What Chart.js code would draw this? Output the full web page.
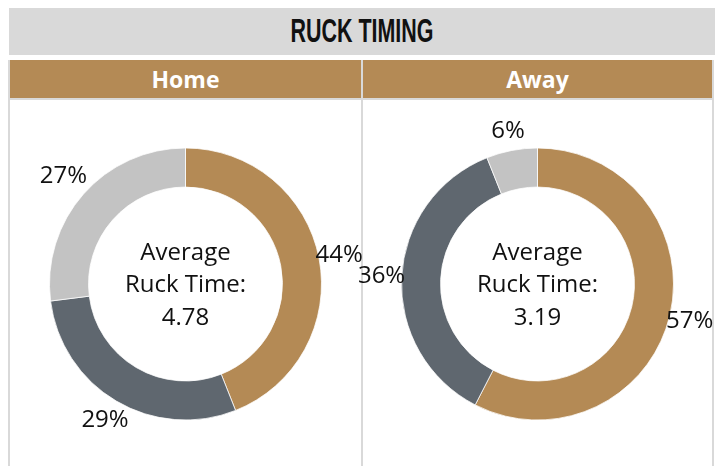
<!DOCTYPE html>
<html>
<head>
<meta charset="utf-8">
<script src="https://cdn.jsdelivr.net/npm/chart.js@4.4.1/dist/chart.umd.min.js"></script>
<style>
  body { margin: 0; background: #fff; width: 726px; height: 466px; overflow: hidden; position: relative; font-family: "Open Sans", sans-serif; }
  .title { position: absolute; left: 9px; top: 8px; width: 706px; height: 47px; background: #d9d9d9; text-align: center; }
  .title span { display: inline-block; font-family: "Liberation Sans", sans-serif; font-weight: bold; font-size: 33px; line-height: 46px; color: #111; transform: scaleX(0.65); }
  .line { position: absolute; background: #d9d9d9; }
  .head { position: absolute; top: 60px; height: 38px; background: #b48a55; color: #fff; font-weight: bold; font-size: 23px; line-height: 38px; text-align: center; }
  canvas { position: absolute; top: 101px; }
</style>
</head>
<body>
<div class="title"><span>RUCK TIMING</span></div>
<div class="line" style="left:8px;top:60px;width:2px;height:406px"></div>
<div class="line" style="left:361px;top:60px;width:2px;height:406px"></div>
<div class="line" style="left:712px;top:60px;width:2px;height:406px"></div>
<div class="line" style="left:8px;top:98px;width:706px;height:2px"></div>
<div class="head" id="homeHead" style="left:10px;width:351px"></div>
<div class="head" id="awayHead" style="left:363px;width:349px"></div>
<canvas id="homeChart" width="371" height="366" style="left:0px"></canvas>
<canvas id="awayChart" width="365" height="366" style="left:355px"></canvas>
<script>
// ruck speed bands, clockwise from 12 o'clock
const bands = ['Band 1', 'Band 2', 'Band 3'];
const bandColours = ['#b48a55', '#5f676f', '#c3c3c3'];
const teams = ['Home', 'Away'];
const homeShare = [44, 29, 27];
const awayShare = [57, 36, 6];
const avgRuckTime = [4.78, 3.19];

// percent labels just outside the ring + the average in the hole
const ruckLabels = {
  id: 'ruckLabels',
  afterDatasetsDraw (chart, args, opts) {
    const ctx = chart.ctx;
    const meta = chart.getDatasetMeta(0);
    const values = chart.data.datasets[0].data;
    ctx.save();
    ctx.font = '24px "Open Sans"';
    ctx.fillStyle = '#111';
    ctx.textAlign = 'center';
    ctx.textBaseline = 'middle';
    meta.data.forEach((arc, i) => {
      const p = arc.getProps(['x', 'y', 'startAngle', 'endAngle', 'outerRadius'], true);
      const mid = (p.startAngle + p.endAngle) / 2;
      const ux = Math.cos(mid);
      const uy = Math.sin(mid);
      const text = values[i] + '%';
      const hw = ctx.measureText(text).width / 2 * 0.85;
      const hh = 19;
      const edge = Math.min(
        Math.abs(ux) > 1e-6 ? hw / Math.abs(ux) : Infinity,
        Math.abs(uy) > 1e-6 ? hh / Math.abs(uy) : Infinity
      );
      const d = p.outerRadius + edge;
      ctx.fillText(text, p.x + ux * d, p.y + uy * d);
    });
    const c = meta.data[0];
    const lines = ['Average', 'Ruck Time:', opts.value.toFixed(2)];
    lines.forEach((t, i) => {
      ctx.fillText(t, c.x, c.y + 1.5 + (i - 1) * 32.5);
    });
    ctx.restore();
  }
};

function makeDonut (id, share, avg) {
  return new Chart(document.getElementById(id), {
    type: 'doughnut',
    data: {
      labels: bands,
      datasets: [{
        data: share,
        backgroundColor: bandColours,
        borderColor: '#ffffff',
        borderWidth: 0.75,
        radius: 136,
        cutout: '71.3%'
      }]
    },
    options: {
      responsive: false,
      animation: false,
      events: [],
      layout: { padding: 0 },
      plugins: {
        legend: { display: false },
        tooltip: { enabled: false },
        ruckLabels: { value: avg }
      }
    },
    plugins: [ruckLabels]
  });
}

document.getElementById('homeHead').textContent = teams[0];
document.getElementById('awayHead').textContent = teams[1];
makeDonut('homeChart', homeShare, avgRuckTime[0]);
makeDonut('awayChart', awayShare, avgRuckTime[1]);
</script>
</body>
</html>
